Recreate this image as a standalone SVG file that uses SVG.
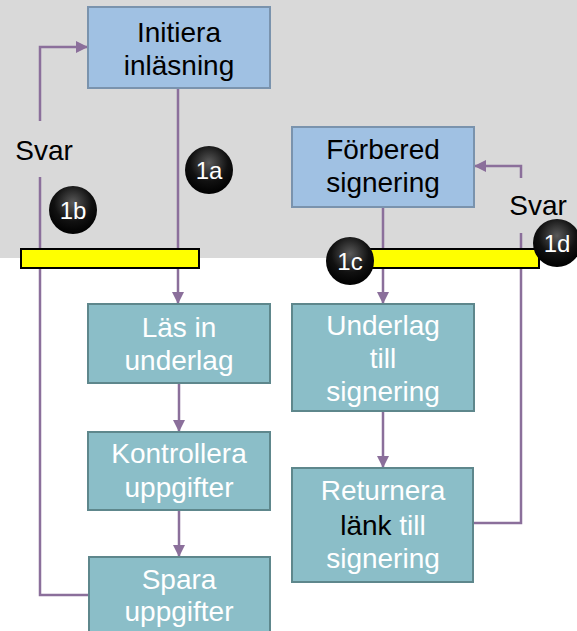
<svg xmlns="http://www.w3.org/2000/svg" width="577" height="631" viewBox="0 0 577 631">
<defs>
<style>
.t{font-family:"Liberation Sans",Arial,sans-serif;font-size:28px;text-anchor:middle}
.blue{fill:#A0C1E3;stroke:#7A93AD;stroke-width:2}
.teal{fill:#8BBEC8;stroke:#5E878C;stroke-width:2}
.w{fill:#ffffff}
.k{fill:#000000}
.c{fill:none;stroke:#8B6F9B;stroke-width:2.5}
.bar{fill:#FFFF00;stroke:#000;stroke-width:2}
.bt{font-family:"Liberation Sans",Arial,sans-serif;font-size:24px;text-anchor:middle;fill:#fff}
</style>
<marker id="ah" markerWidth="12" markerHeight="12" viewBox="0 0 12 12" refX="11" refY="6" orient="auto" markerUnits="userSpaceOnUse">
<path d="M0,0 L12,6 L0,12 Z" fill="#8B6F9B"/>
</marker>
<radialGradient id="ball" cx="0.5" cy="0.35" r="0.65">
<stop offset="0" stop-color="#5a5a5a"/>
<stop offset="0.6" stop-color="#111"/>
<stop offset="1" stop-color="#000"/>
</radialGradient>
</defs>
<rect x="0" y="0" width="577" height="258" fill="#D9D9D9"/>
<g id="connectors">
<path class="c" d="M178,88 V303" marker-end="url(#ah)"/>
<path class="c" d="M179,383 V431" marker-end="url(#ah)"/>
<path class="c" d="M179,510 V556" marker-end="url(#ah)"/>
<path class="c" d="M90,595 H40 V177"/>
<path class="c" d="M40,121 V47 H87" marker-end="url(#ah)"/>
<path class="c" d="M383,207 V303" marker-end="url(#ah)"/>
<path class="c" d="M383,411 V467" marker-end="url(#ah)"/>
<path class="c" d="M473,523 H521 V233"/>
<path class="c" d="M521,178 V166 H475" marker-end="url(#ah)"/>
</g>
<g id="initiera">
<rect class="blue" x="88" y="7" width="182" height="81"/>
<text class="t k" x="179" y="42">Initiera</text>
<text class="t k" x="179" y="75">inläsning</text>
</g>
<g id="forbered">
<rect class="blue" x="292" y="127" width="182" height="80"/>
<text class="t k" x="383" y="159">Förbered</text>
<text class="t k" x="383" y="192">signering</text>
</g>
<g id="svar-left"><text class="t k" x="44" y="160">Svar</text></g>
<g id="svar-right"><text class="t k" x="538" y="215">Svar</text></g>
<g id="bar-left"><rect class="bar" x="21" y="249" width="178" height="19"/></g>
<g id="bar-right"><rect class="bar" x="355" y="249" width="184" height="19"/></g>
<g id="b1a"><circle cx="209" cy="170" r="24" fill="url(#ball)"/><text class="bt" x="209" y="179">1a</text></g>
<g id="b1b"><circle cx="73" cy="210" r="24" fill="url(#ball)"/><text class="bt" x="73" y="219">1b</text></g>
<g id="b1c"><circle cx="350" cy="261" r="24" fill="url(#ball)"/><text class="bt" x="350" y="270">1c</text></g>
<g id="b1d"><circle cx="557" cy="243" r="24" fill="url(#ball)"/><text class="bt" x="557" y="252">1d</text></g>
<g id="las">
<rect class="teal" x="88" y="304" width="182" height="79"/>
<text class="t w" x="179" y="337">Läs in</text>
<text class="t w" x="179" y="370">underlag</text>
</g>
<g id="kontrollera">
<rect class="teal" x="88" y="432" width="182" height="78"/>
<text class="t w" x="179" y="463">Kontrollera</text>
<text class="t w" x="179" y="497">uppgifter</text>
</g>
<g id="spara">
<rect class="teal" x="89" y="557" width="181" height="80"/>
<text class="t w" x="179" y="589">Spara</text>
<text class="t w" x="179" y="621">uppgifter</text>
</g>
<g id="underlag">
<rect class="teal" x="292" y="304" width="182" height="107"/>
<text class="t w" x="383" y="335">Underlag</text>
<text class="t w" x="383" y="368">till</text>
<text class="t w" x="383" y="401">signering</text>
</g>
<g id="returnera">
<rect class="teal" x="292" y="468" width="181" height="114"/>
<text class="t w" x="383" y="500">Returnera</text>
<text class="t w" x="383" y="535"><tspan class="k">länk</tspan> till</text>
<text class="t w" x="383" y="568">signering</text>
</g>
</svg>
